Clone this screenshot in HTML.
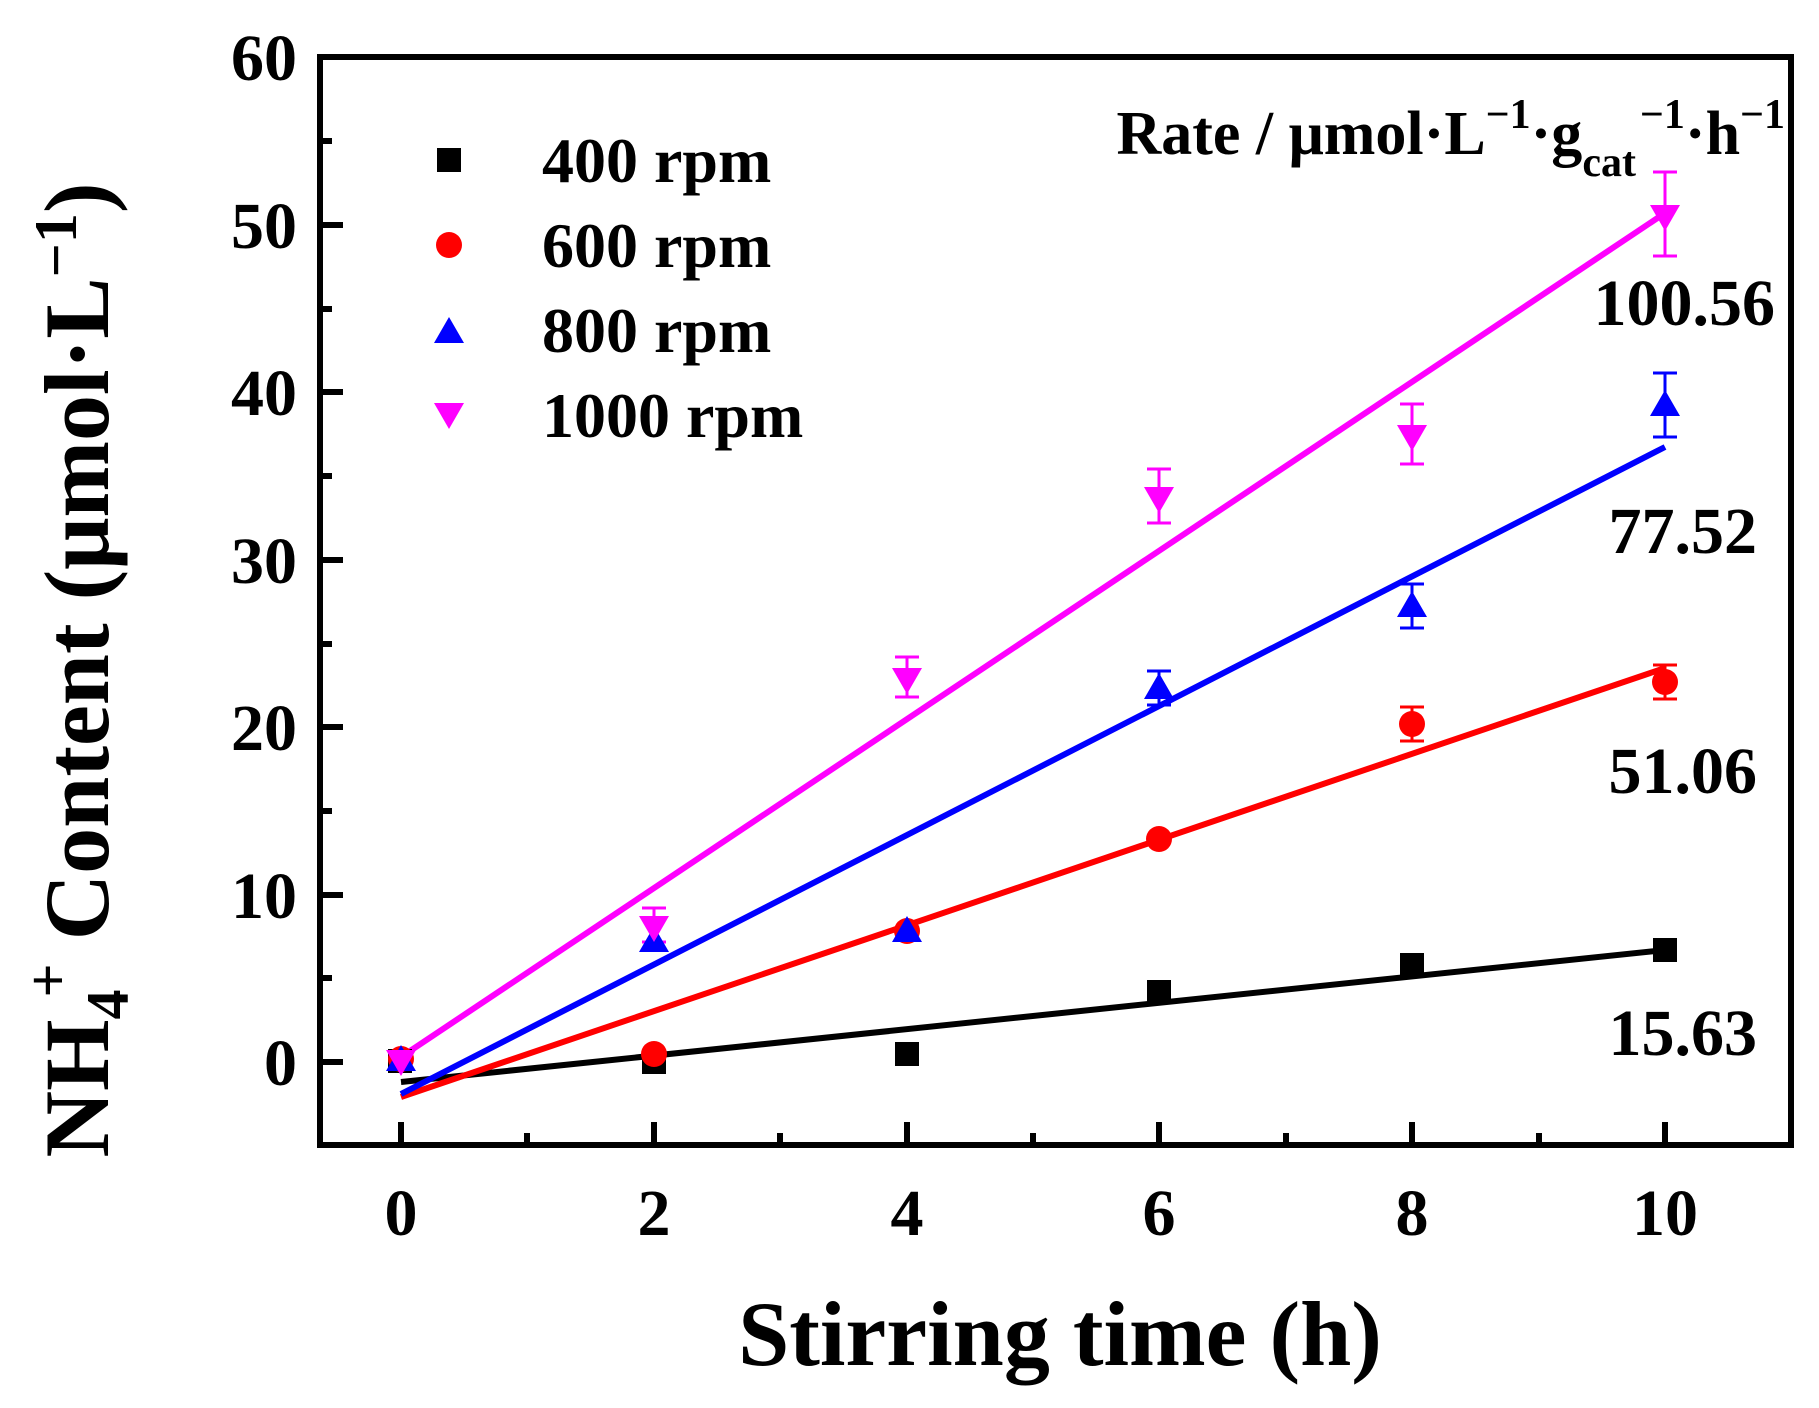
<!DOCTYPE html>
<html><head><meta charset="utf-8"><style>
html,body{margin:0;padding:0;background:#fff;}
svg{display:block;}
text{font-family:"Liberation Serif",serif;font-weight:bold;fill:#000;}
</style></head><body>
<svg width="1819" height="1408" viewBox="0 0 1819 1408" xmlns="http://www.w3.org/2000/svg">
<g stroke="#000" stroke-width="6">
<line x1="401" y1="1145" x2="401" y2="1122"/><line x1="654" y1="1145" x2="654" y2="1122"/><line x1="907" y1="1145" x2="907" y2="1122"/><line x1="1159" y1="1145" x2="1159" y2="1122"/><line x1="1412" y1="1145" x2="1412" y2="1122"/><line x1="1665" y1="1145" x2="1665" y2="1122"/>
<line x1="527" y1="1145" x2="527" y2="1133"/><line x1="780" y1="1145" x2="780" y2="1133"/><line x1="1033" y1="1145" x2="1033" y2="1133"/><line x1="1286" y1="1145" x2="1286" y2="1133"/><line x1="1539" y1="1145" x2="1539" y2="1133"/>
<line x1="320" y1="1062" x2="343" y2="1062"/><line x1="320" y1="895" x2="343" y2="895"/><line x1="320" y1="727" x2="343" y2="727"/><line x1="320" y1="560" x2="343" y2="560"/><line x1="320" y1="392" x2="343" y2="392"/><line x1="320" y1="225" x2="343" y2="225"/>
<line x1="320" y1="978" x2="332" y2="978"/><line x1="320" y1="811" x2="332" y2="811"/><line x1="320" y1="644" x2="332" y2="644"/><line x1="320" y1="476" x2="332" y2="476"/><line x1="320" y1="309" x2="332" y2="309"/><line x1="320" y1="141" x2="332" y2="141"/>
</g>
<rect x="320" y="57" width="1471" height="1088" fill="none" stroke="#000" stroke-width="6"/>
<g font-size="66" text-anchor="middle">
<text x="401" y="1235">0</text><text x="654" y="1235">2</text><text x="907" y="1235">4</text><text x="1159" y="1235">6</text><text x="1412" y="1235">8</text><text x="1665" y="1235">10</text>
</g>
<g font-size="66" text-anchor="end">
<text x="297" y="1085">0</text><text x="297" y="918">10</text><text x="297" y="750">20</text><text x="297" y="583">30</text><text x="297" y="415">40</text><text x="297" y="248">50</text><text x="297" y="80">60</text>
</g>
<text x="1060" y="1365" font-size="92" text-anchor="middle">Stirring time (h)</text>
<text transform="translate(108,670) rotate(-90)" font-size="92" text-anchor="middle">NH<tspan font-size="60" dy="20">4</tspan><tspan font-size="60" dx="-8" dy="-60">+</tspan><tspan dy="40"> Content (μmol·L</tspan><tspan font-size="60" dy="-32">−1</tspan><tspan dy="32">)</tspan></text>
<g stroke-width="6">
<line x1="401" y1="1082" x2="1665" y2="950" stroke="#000"/>
<line x1="401" y1="1097" x2="1665" y2="668" stroke="#f00"/>
<line x1="401" y1="1094" x2="1665" y2="447" stroke="#00f"/>
<line x1="401" y1="1057" x2="1665" y2="213" stroke="#f0f"/>
</g>
<g stroke-width="3" fill="none">
<path stroke="#f0f" d="M1665 172V256M1653 172H1677M1653 256H1677M1412 404V464M1400 404H1424M1400 464H1424M1159 469V523M1147 469H1171M1147 523H1171M907 657V697M895 657H919M895 697H919M654 908V942M642 908H666M642 942H666"/>
<path stroke="#00f" d="M1665 373V437M1653 373H1677M1653 437H1677M1412 584V628M1400 584H1424M1400 628H1424M1159 671V705M1147 671H1171M1147 705H1171"/>
<path stroke="#f00" d="M1665 665V699M1653 665H1677M1653 699H1677M1412 707V741M1400 707H1424M1400 741H1424"/>
</g>
<g fill="#000">
<rect x="388" y="1049" width="24" height="24"/><rect x="642" y="1050" width="24" height="24"/><rect x="895" y="1042" width="24" height="24"/><rect x="1147" y="980" width="24" height="24"/><rect x="1400" y="953" width="24" height="24"/><rect x="1653" y="938" width="24" height="24"/>
</g>
<g fill="#f00">
<circle cx="401" cy="1059" r="13"/><circle cx="654" cy="1054" r="13"/><circle cx="907" cy="931" r="13"/><circle cx="1159" cy="839" r="13"/><circle cx="1412" cy="724" r="13"/><circle cx="1665" cy="682" r="13"/>
</g>
<g fill="#00f">
<path d="M401 1045L416 1071H386Z"/><path d="M654 926L669 952H639Z"/><path d="M907 916L922 942H892Z"/><path d="M1159 673L1174 699H1144Z"/><path d="M1412 591L1427 617H1397Z"/><path d="M1665 390L1680 416H1650Z"/>
</g>
<g fill="#f0f">
<path d="M386 1050H416L401 1076Z"/><path d="M639 916H669L654 942Z"/><path d="M892 668H922L907 694Z"/><path d="M1144 487H1174L1159 513Z"/><path d="M1397 425H1427L1412 451Z"/><path d="M1650 205H1680L1665 231Z"/>
</g>
<rect x="437" y="148" width="24" height="24" fill="#000"/>
<circle cx="449" cy="245" r="13" fill="#f00"/>
<path d="M449 317L464 343H434Z" fill="#00f"/>
<path d="M434 403H464L449 429Z" fill="#f0f"/>
<g font-size="64">
<text x="542" y="182">400 rpm</text>
<text x="542" y="267">600 rpm</text>
<text x="542" y="352">800 rpm</text>
<text x="542" y="437">1000 rpm</text>
</g>
<text x="1785" y="154" font-size="62" text-anchor="end">Rate / μmol·L<tspan font-size="42" dy="-26">−1</tspan><tspan dy="26">·g</tspan><tspan font-size="42" dy="22">cat</tspan><tspan font-size="42" dx="4" dy="-48">−1</tspan><tspan dy="26">·h</tspan><tspan font-size="42" dy="-26">−1</tspan></text>
<g font-size="66" text-anchor="end">
<text x="1775" y="325">100.56</text>
<text x="1757" y="553">77.52</text>
<text x="1757" y="793">51.06</text>
<text x="1757" y="1055">15.63</text>
</g>
</svg>
</body></html>
